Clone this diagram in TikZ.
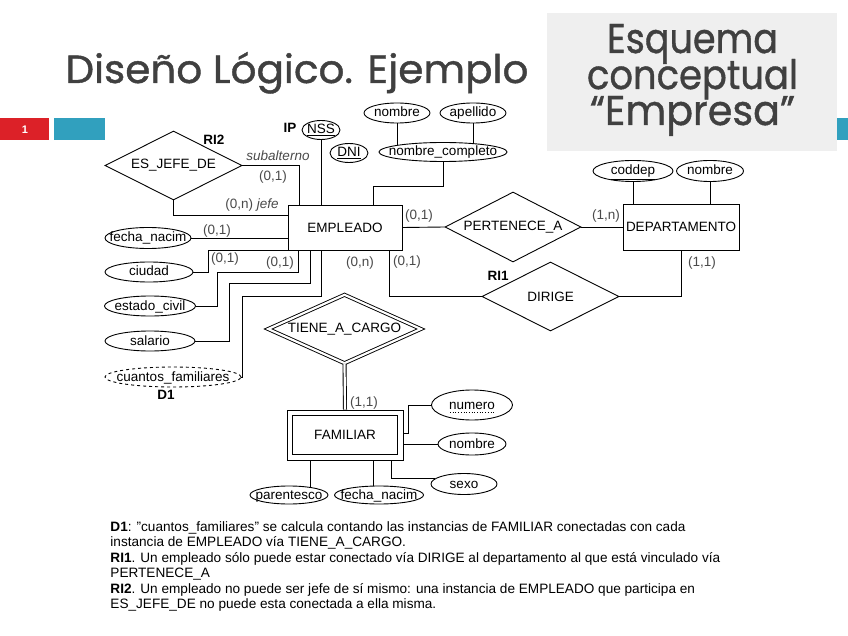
\documentclass[tikz,border=0pt]{standalone}
\usepackage{fontspec}
\setmainfont{Liberation Sans}
\newfontfamily\titlefont[FakeBold=1]{Poppins}
\usetikzlibrary{shapes.geometric,calc}
\definecolor{titlegray}{HTML}{404040}
\definecolor{boxgray}{HTML}{EFEFEF}
\definecolor{pagered}{HTML}{DC2128}
\definecolor{pageteal}{HTML}{31A0BE}
\definecolor{cardgray}{HTML}{4A4A4A}
\newcommand\diagfont{\fontsize{13.5}{15}\selectfont}
\newcommand\notefont{\fontsize{13.6}{15.6}\selectfont}
\newcommand\attxt[1]{\makebox[0pt]{#1}}
\begin{document}
\begin{tikzpicture}[x=1pt,y=-1pt,line width=0.9pt,
  ent/.style={draw, rectangle, inner sep=0, font=\diagfont},
  rel/.style={draw, diamond, inner sep=0, aspect=2, font=\diagfont},
  attr/.style={draw, ellipse, inner sep=0, text height=8pt, text depth=0pt, font=\diagfont},
  card/.style={font=\diagfont, text=cardgray, inner sep=0},
  tag/.style={font=\diagfont\bfseries, inner sep=0},
  note/.style={font=\notefont, anchor=base west, inner sep=0},
  bigtitle/.style={text=titlegray, inner sep=0, anchor=base}]
\useasboundingbox (0,0) rectangle (848,636);
\fill[white] (0,0) rectangle (848,636);

% header
\node[bigtitle, anchor=base west] (title) at (65,83) {\resizebox{463pt}{31pt}{\titlefont Diseño Lógico. Ejemplo}};
\node[fill=boxgray, inner sep=0, minimum width=290, minimum height=138, anchor=north west] (ebox) at (547,13) {};
\node[bigtitle] (e1) at (692.5,53) {\resizebox{171pt}{29pt}{\titlefont Esquema}};
\node[bigtitle] (e2) at (692.5,89) {\resizebox{211pt}{30pt}{\titlefont conceptual}};
\node[bigtitle] (e3) at (692.5,125) {\resizebox{205pt}{29pt}{\titlefont “Empresa”}};
\node[fill=pagered, inner sep=0, minimum width=49, minimum height=22, anchor=north west, text=white, font=\fontsize{11}{13}\selectfont\bfseries] (pg) at (0,118) {1};
\node[fill=pageteal, inner sep=0, minimum width=51, minimum height=22, anchor=north west] (tb1) at (54,118) {};
\node[fill=pageteal, inner sep=0, minimum width=11, minimum height=22, anchor=north west] (tb2) at (837,118) {};

% entities
\node[ent, minimum width=114, minimum height=45] (emp) at (345,227.5) {EMPLEADO};
\node[ent, minimum width=116, minimum height=46] (dep) at (681,227) {DEPARTAMENTO};
\node[ent, minimum width=116, minimum height=50] (fam) at (345,435) {FAMILIAR};
\draw ($(fam.north west)+(6,6)$) rectangle ($(fam.south east)+(-6,-6)$);

% relationships
\node[rel, minimum width=137, minimum height=69] (ej) at (173.5,165.5) {ES\_JEFE\_DE};
\node[rel, minimum width=136, minimum height=70] (pa) at (513,227) {PERTENECE\_A};
\node[rel, minimum width=137, minimum height=69] (dir) at (550.5,296.5) {DIRIGE};
\node[rel, double, double distance=2.2pt, minimum width=153, minimum height=61] (tac) at (344.5,329) {TIENE\_A\_CARGO};

% attributes
\node[attr, minimum width=66, minimum height=20] (anom) at (397,113) {\attxt{nombre}};
\node[attr, minimum width=66, minimum height=20] (aape) at (473,113) {\attxt{apellido}};
\node[attr, minimum width=128, minimum height=19] (ancomp) at (443,152) {\attxt{nombre\_completo}};
\node[attr, minimum width=38, minimum height=19] (anss) at (321,130) {\attxt{\underline{NSS}}};
\node[attr, minimum width=38, minimum height=19] (adni) at (349,153) {\attxt{\underline{DNI}}};
\node[attr, minimum width=80, minimum height=21] (acod) at (633,171) {\attxt{\underline{coddep}}};
\node[attr, minimum width=67, minimum height=21] (adnom) at (710,171) {\attxt{nombre}};
\node[attr, minimum width=86, minimum height=21] (afn) at (148,238) {\attxt{fecha\_nacim}};
\node[attr, minimum width=88, minimum height=20] (aciu) at (149,272) {\attxt{ciudad}};
\node[attr, minimum width=91, minimum height=20] (aest) at (150,306) {\attxt{estado\_civil}};
\node[attr, minimum width=90, minimum height=20] (asal) at (150,341) {\attxt{salario}};
\node[attr, dashed, minimum width=136, minimum height=20] (acf) at (173,377) {\attxt{cuantos\_familiares}};
\node[attr, minimum width=81, minimum height=30] (anum) at (472,405) {\attxt{numero}};
\node[attr, minimum width=68, minimum height=22] (afnom) at (472,444) {\attxt{nombre}};
\node[attr, minimum width=66, minimum height=21] (asex) at (464,484) {\attxt{sexo}};
\node[attr, minimum width=78, minimum height=18] (apar) at (289,495) {\attxt{parentesco}};
\node[attr, minimum width=89, minimum height=18] (affn) at (379,495) {\attxt{fecha\_nacim}};
\draw[dotted, line width=0.7pt] ($(anum.center)+(-22,7)$) -- ($(anum.center)+(22,7)$);

% connectors
\draw (anom.south) -- (anom.south |- ancomp.172);
\draw (aape.south) -- (aape.south |- ancomp.16);
\draw (ancomp.south) -- ++(0,25) -| ($(emp.north west)+(86,0)$);
\draw (anss.south) -- (anss.south |- emp.north);
\draw (ej.east) -| ($(emp.north west)+(12,0)$);
\draw (ej.south) |- ($(emp.north west)+(0,11)$);
\draw (afn.east) -- (afn.east -| emp.west);
\draw (aciu.east) -- ++(15,0) |- (emp.south west);
\draw (aest.east) -| ($(emp.south west)+(-70,22)$) -| ($(emp.south west)+(11,0)$);
\draw (asal.east) -| ($(emp.south west)+(-58,33)$) -| ($(emp.south west)+(23,0)$);
\draw (acf.east) -| ($(emp.south west)+(-45,46)$) -| ($(emp.south west)+(34,0)$);
\draw ($(emp.south west)+(102,0)$) |- (dir.west);
\draw (emp.east) -- (pa.west);
\draw (pa.east) -- (dep.west);
\draw (dep.south) |- (dir.east);
\draw (acod.south) -- (acod.south |- dep.north);
\draw (adnom.south) -- (adnom.south |- dep.north);
\draw[double, double distance=2.2pt] (tac.south) -- (fam.north);
\draw ($(fam.east)+(0,-2)$) -- ++(5,0) |- (anum.west);
\draw (fam.east |- afnom.west) -- (afnom.west);
\draw ($(fam.south east)+(-12,0)$) |- (asex.170);
\draw (apar.20) -- (apar.20 |- fam.south);
\draw (affn.119) -- (affn.119 |- fam.south);

% labels
\node[tag] (lip) at (290,128) {IP};
\node[tag] (lri2) at (214,140) {RI2};
\node[tag] (lri1) at (498,276) {RI1};
\node[tag] (ld1) at (166,395) {D1};
\node[card, font=\diagfont\itshape] (lsub) at (278,156) {subalterno};
\node[card] (c1) at (273,177) {(0,1)};
\node[card] (c2) at (252,205) {(0,n) \textit{jefe}};
\node[card] (c3) at (217,231) {(0,1)};
\node[card] (c4) at (225,259) {(0,1)};
\node[card] (c5) at (280,263) {(0,1)};
\node[card] (c6) at (360,263) {(0,n)};
\node[card] (c7) at (407,262) {(0,1)};
\node[card] (c8) at (419,216) {(0,1)};
\node[card] (c9) at (606,216) {(1,n)};
\node[card] (c10) at (702,263) {(1,1)};
\node[card] (c11) at (364,403) {(1,1)};

% notes
\node[note] (n1) at (110,531) {\textbf{D1}: "cuantos\_familiares" se calcula contando las instancias de FAMILIAR conectadas con cada};
\node[note] (n2) at (110,546.5) {instancia de EMPLEADO vía TIENE\_A\_CARGO.};
\node[note] (n3) at (110,562) {\textbf{RI1}. Un empleado sólo puede estar conectado vía DIRIGE al departamento al que está vinculado vía};
\node[note] (n4) at (110,577.5) {PERTENECE\_A};
\node[note] (n5) at (110,593) {\textbf{RI2}. Un empleado no puede ser jefe de sí mismo: una instancia de EMPLEADO que participa en};
\node[note] (n6) at (110,608.5) {ES\_JEFE\_DE no puede esta conectada a ella misma.};
\end{tikzpicture}
\end{document}
